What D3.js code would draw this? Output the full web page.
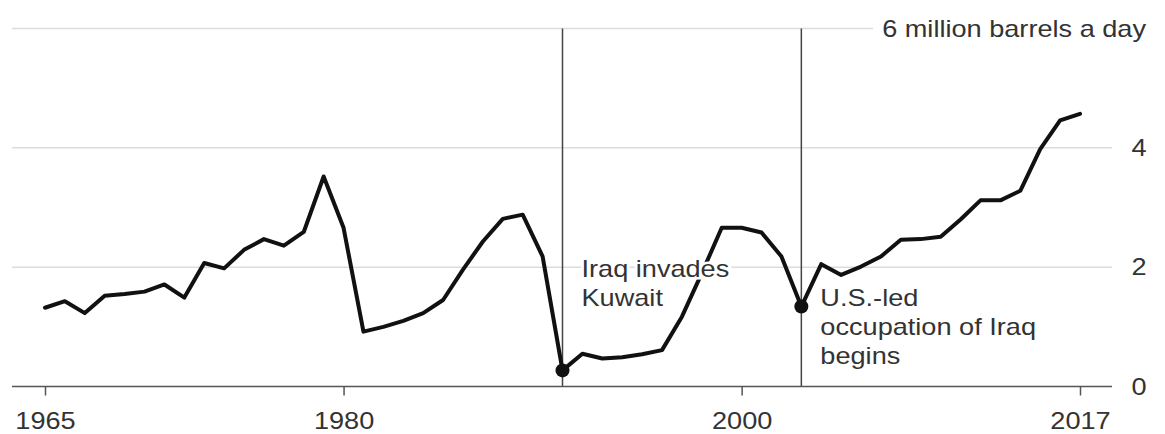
<!DOCTYPE html>
<html>
<head>
<meta charset="utf-8">
<script src="https://cdn.jsdelivr.net/npm/d3@7"></script>
<style>
  body { margin: 0; background: #fff; }
  text { font-family: "Liberation Sans", Arial, sans-serif; fill: #333; }
</style>
</head>
<body>
<div id="graph"></div>
<script>
// Iraq oil production, million barrels a day
const years = d3.range(1965, 2018);
const production = [
  1.32, 1.43, 1.23, 1.52, 1.55, 1.59, 1.71, 1.49, 2.07, 1.98,
  2.29, 2.47, 2.36, 2.59, 3.52, 2.66, 0.92, 1.00, 1.10, 1.23,
  1.45, 1.96, 2.43, 2.81, 2.88, 2.18, 0.27, 0.55, 0.47, 0.49,
  0.54, 0.61, 1.17, 1.90, 2.66, 2.66, 2.58, 2.18, 1.34, 2.05,
  1.87, 2.01, 2.18, 2.46, 2.47, 2.51, 2.80, 3.12, 3.12, 3.28,
  3.98, 4.46, 4.57
];
const yTicks = [0, 2, 4, 6];
const xTicks = [1965, 1980, 2000, 2017];
const events = [
  {year: 1991, lines: ['Iraq invades', 'Kuwait'], dy: -93},
  {year: 2003, lines: ['U.S.-led', 'occupation of Iraq', 'begins'], dy: -1}
];
const unitLabel = '6 million barrels a day';

const W = 1165, H = 434;
const left = 12, right = 1112;
const fontSize = '23px';
const stretch = 1.18; // the type in the source is a bit wide

const x = d3.scaleLinear().domain([1965, 2017]).range([45, 1080]);
const y = d3.scaleLinear().domain([0, 6]).range([386.5, 28.5]);

const svg = d3.select('#graph')
  .append('svg')
  .attr('width', W)
  .attr('height', H);

// gridlines
svg.selectAll('.grid')
  .data(yTicks.filter(d => d > 0))
  .enter().append('line')
  .attr('x1', left).attr('x2', right)
  .attr('y1', d => y(d)).attr('y2', d => y(d))
  .attr('stroke', '#dcdcdc')
  .attr('stroke-width', 1.5);

// y labels
svg.selectAll('.ylab')
  .data(yTicks.filter(d => d < 6))
  .enter().append('g')
  .attr('transform', d => `translate(1139,${y(d)}) scale(${stretch},1)`)
  .append('text')
  .attr('dy', '0.36em')
  .attr('text-anchor', 'middle')
  .style('font-size', fontSize)
  .text(d => d);

// unit label with white box over top gridline
svg.append('rect')
  .attr('x', 873).attr('y', y(6) - 18)
  .attr('width', 290).attr('height', 36)
  .attr('fill', '#fff');
svg.append('g')
  .attr('transform', `translate(1146,${y(6)}) scale(${stretch},1)`)
  .append('text')
  .attr('dy', '0.36em')
  .attr('text-anchor', 'end')
  .style('font-size', fontSize)
  .text(unitLabel);

// event lines
svg.selectAll('.evline')
  .data(events)
  .enter().append('line')
  .attr('x1', d => x(d.year)).attr('x2', d => x(d.year))
  .attr('y1', y(6)).attr('y2', y(0))
  .attr('stroke', '#444')
  .attr('stroke-width', 1.5);

// x axis
const xAxis = svg.append('g')
  .attr('transform', `translate(0,${y(0)})`)
  .call(d3.axisBottom(x).tickValues(xTicks).tickFormat(d3.format('d')).tickSize(9).tickPadding(17));
xAxis.select('.domain').remove();
xAxis.selectAll('line').attr('stroke', '#555').attr('stroke-width', 1.5);
xAxis.selectAll('text')
  .style('font-size', fontSize)
  .style('font-family', '"Liberation Sans", Arial, sans-serif')
  .attr('fill', '#333')
  .attr('transform', `scale(${stretch},1)`);
svg.append('line')
  .attr('x1', left).attr('x2', right)
  .attr('y1', y(0)).attr('y2', y(0))
  .attr('stroke', '#555')
  .attr('stroke-width', 1.5);

// production line
const data = years.map((yr, i) => ({year: yr, value: production[i]}));
svg.append('path')
  .datum(data)
  .attr('fill', 'none')
  .attr('stroke', '#111')
  .attr('stroke-width', 4)
  .attr('stroke-linejoin', 'round')
  .attr('stroke-linecap', 'round')
  .attr('d', d3.line().x(d => x(d.year)).y(d => y(d.value)));

// event dots
svg.selectAll('.dot')
  .data(events)
  .enter().append('circle')
  .attr('cx', d => x(d.year))
  .attr('cy', d => y(production[years.indexOf(d.year)]))
  .attr('r', 7)
  .attr('fill', '#111');

// event annotations
events.forEach(ev => {
  const yv = y(production[years.indexOf(ev.year)]);
  const t = svg.append('g')
    .attr('transform', `translate(${x(ev.year) + 19},${yv + ev.dy}) scale(${stretch},1)`)
    .append('text')
    .style('font-size', fontSize)
    .attr('stroke', '#fff')
    .attr('stroke-width', 5)
    .attr('paint-order', 'stroke');
  ev.lines.forEach((l, i) => {
    t.append('tspan')
      .attr('x', 0)
      .attr('dy', i === 0 ? 0 : 29)
      .text(l);
  });
});
</script>
</body>
</html>
